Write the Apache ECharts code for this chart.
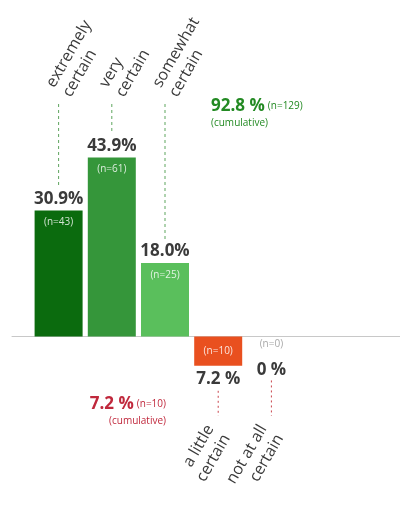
<!DOCTYPE html>
<html><head><meta charset="utf-8">
<script src="https://cdn.jsdelivr.net/npm/echarts@6/dist/echarts.min.js"></script>
<style>html,body{margin:0;padding:0;background:#fff}#c{width:400px;height:511px}</style>
</head><body><div id="c"></div>
<script>
const categories = ['extremely\ncertain', 'very\ncertain', 'somewhat\ncertain', 'a little\ncertain', 'not at all\ncertain'];
const percents = [30.9, 43.9, 18.0, -7.2, 0];
const counts = [43, 61, 25, 10, 0];
const percentLabels = ['30.9%', '43.9%', '18.0%', '7.2 %', '0 %'];
const barColors = ['#0b6b0e', '#35963a', '#5abf5c', '#e9501f', '#e9501f'];

const FONT = 'Open Sans';
const posSum = percents.filter(v => v > 0).reduce((a, b) => a + b, 0);
const posN = counts.filter((c, i) => percents[i] > 0).reduce((a, b) => a + b, 0);
const negSum = -percents.filter(v => v < 0).reduce((a, b) => a + b, 0);
const negN = counts.filter((c, i) => percents[i] < 0).reduce((a, b) => a + b, 0);

const nData = percents.map((v, i) => {
  let label;
  if (v > 0) label = {position: 'insideTop', distance: 7, color: 'rgba(255,255,255,0.82)'};
  else if (v < 0) label = {position: 'inside', color: 'rgba(255,255,255,0.85)'};
  else label = {position: 'bottom', distance: 3, color: '#a8a8a8'};
  return {value: v, itemStyle: {color: barColors[i]}, label: label};
});
const pctData = percents.map((v, i) => ({
  value: v,
  label: v > 0 ? {position: 'top', distance: 3} : {position: 'bottom', distance: v === 0 ? 25 : 5}
}));

const chart = echarts.init(document.getElementById('c'), null, {renderer: 'canvas'});
chart.setOption({
  backgroundColor: '#fff',
  animation: false,
  grid: [
    {left: 32, right: 102, top: 104, bottom: 93},
    {left: 12, right: 0, top: 104, bottom: 93}
  ],
  xAxis: [
    {type: 'category', gridIndex: 0, position: 'top', data: categories,
      axisLine: {show: false}, axisTick: {show: false},
      axisLabel: {interval: 0, rotate: 60, margin: 13, align: 'left', verticalAlign: 'middle',
        fontFamily: FONT, fontSize: 16, color: '#3a3a3a', lineHeight: 19,
        formatter: (val, idx) => percents[idx] > 0 ? val : ''}},
    {type: 'category', gridIndex: 0, position: 'bottom', data: categories,
      axisLine: {show: false}, axisTick: {show: false},
      axisLabel: {interval: 0, rotate: 60, margin: 13, align: 'right', verticalAlign: 'middle',
        fontFamily: FONT, fontSize: 16, color: '#3a3a3a', lineHeight: 19,
        formatter: (val, idx) => percents[idx] <= 0 ? val : ''}},
    {type: 'value', gridIndex: 1, min: 0, max: 1,
      axisLine: {show: true, onZero: true, lineStyle: {color: '#c8c8c8', width: 1}},
      axisTick: {show: false}, axisLabel: {show: false}, splitLine: {show: false}}
  ],
  yAxis: [
    {type: 'value', gridIndex: 0, min: -20, max: 57, show: false, splitLine: {show: false}},
    {type: 'value', gridIndex: 1, min: -20, max: 57, show: false, splitLine: {show: false}}
  ],
  series: [
    {type: 'bar', xAxisIndex: 0, yAxisIndex: 0, barWidth: 48, barGap: '-100%',
      data: nData,
      label: {show: true, fontFamily: FONT, fontSize: 10,
        formatter: p => '(n=' + counts[p.dataIndex] + ')'}},
    {type: 'bar', xAxisIndex: 0, yAxisIndex: 0, barWidth: 48, barGap: '-100%',
      data: pctData, itemStyle: {color: 'rgba(0,0,0,0)'}, silent: true,
      label: {show: true, fontFamily: FONT, fontSize: 17, fontWeight: 'bold', color: '#3a3a3a',
        formatter: p => percentLabels[p.dataIndex]}},
    {type: 'custom', xAxisIndex: 0, yAxisIndex: 0, silent: true,
      data: percents.map((v, i) => [i, v]),
      renderItem: (params, api) => {
        const v = api.value(1);
        const cs = params.coordSys;
        const p = api.coord([api.value(0), v]);
        let y1, y2, stroke, dash;
        if (v > 0) { y1 = cs.y; y2 = p[1] - 24; stroke = '#5fa55f'; dash = [3, 3]; }
        else { y1 = p[1] + (v === 0 ? 44 : 25); y2 = cs.y + cs.height - 2; stroke = '#c8424a'; dash = [2, 3]; }
        return {type: 'line', shape: {x1: p[0], y1: y1, x2: p[0], y2: y2},
          style: {stroke: stroke, lineWidth: 1, lineDash: dash}};
      }}
  ],
  graphic: [
    {type: 'text', left: 211, top: 98, style: {
      text: '{b|' + posSum.toFixed(1) + ' %} {s|(n=' + posN + ')}\n{s|(cumulative)}',
      fontFamily: FONT, fill: '#238a23', textAlign: 'left',
      rich: {b: {fontSize: 17, fontWeight: 'bold', fill: '#238a23', fontFamily: FONT, lineHeight: 20},
             s: {fontSize: 10, fill: '#238a23', fontFamily: FONT, lineHeight: 13}}}},
    {type: 'text', right: 234, top: 396, style: {
      text: '{b|' + negSum.toFixed(1) + ' %} {s|(n=' + negN + ')}\n{s|(cumulative)}',
      fontFamily: FONT, fill: '#c0283c', align: 'right',
      rich: {b: {fontSize: 17, fontWeight: 'bold', fill: '#c0283c', fontFamily: FONT, lineHeight: 20, align: 'right'},
             s: {fontSize: 10, fill: '#c0283c', fontFamily: FONT, lineHeight: 13, align: 'right'}}}}
  ]
});
</script></body></html>
